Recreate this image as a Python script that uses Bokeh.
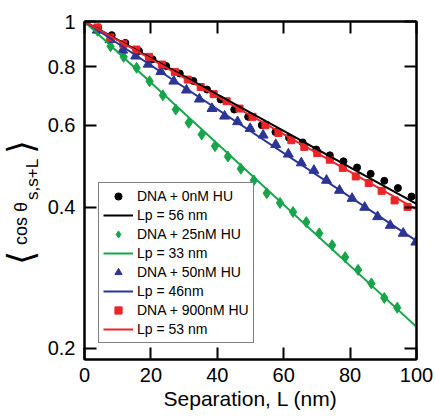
from bokeh.plotting import figure
from bokeh.layouts import row
from bokeh.models import (LinearAxis, LogAxis, FixedTicker, Legend, LegendItem,
                          Range1d, Div)
from bokeh.embed import file_html
from bokeh.resources import INLINE

# ---- data ----
x_0nM = [0, 4.1, 8.2, 12.3, 16.4, 20.5, 24.6, 28.7, 32.8, 36.9, 41.0, 45.1, 49.3,
         53.4, 57.5, 61.6, 65.7, 69.8, 73.9, 78.0, 82.1, 86.2, 90.3, 94.4, 98.5]
y_0nM = [1.0, 0.971, 0.935, 0.900, 0.865, 0.830, 0.803, 0.774, 0.746, 0.715, 0.681,
         0.648, 0.625, 0.600, 0.580, 0.564, 0.551, 0.532, 0.517, 0.502, 0.487,
         0.472, 0.456, 0.440, 0.422]

x_25nM = [0, 3.93, 7.85, 11.8, 15.7, 19.6, 23.6, 27.5, 31.4, 35.3, 39.3, 43.2, 47.1,
          51.0, 54.9, 58.9, 62.8, 66.8, 70.7, 74.6, 78.5, 82.4, 86.4, 90.3, 94.2]
y_25nM = [1.0, 0.955, 0.885, 0.840, 0.796, 0.745, 0.695, 0.648, 0.607, 0.573, 0.541,
          0.514, 0.484, 0.457, 0.429, 0.409, 0.391, 0.372, 0.352, 0.332, 0.313,
          0.294, 0.275, 0.256, 0.244]

x_50nM = [0, 3.84, 7.68, 11.5, 15.4, 19.2, 23.0, 26.9, 30.7, 34.6, 38.4, 42.2, 46.1,
          49.9, 53.8, 57.6, 61.4, 65.3, 69.1, 72.9, 76.8, 80.6, 84.4, 88.3, 92.1,
          96.0, 99.8]
y_50nM = [1.0, 0.958, 0.915, 0.868, 0.843, 0.810, 0.781, 0.745, 0.713, 0.682, 0.651,
          0.627, 0.610, 0.590, 0.571, 0.545, 0.520, 0.498, 0.480, 0.457, 0.435,
          0.418, 0.400, 0.382, 0.366, 0.352, 0.337]

x_900nM = [0, 3.9, 7.8, 11.7, 15.6, 19.4, 23.3, 27.2, 31.1, 35.0, 38.9, 42.8, 46.7,
           50.6, 54.5, 58.4, 62.3, 66.2, 70.1, 73.9, 77.8, 81.7, 85.6, 89.5, 93.4, 97.3]
y_900nM = [1.0, 0.971, 0.924, 0.894, 0.871, 0.840, 0.809, 0.780, 0.751, 0.724, 0.699,
           0.675, 0.651, 0.625, 0.600, 0.577, 0.557, 0.539, 0.523, 0.506, 0.486,
           0.466, 0.451, 0.434, 0.414, 0.401]

fit_x = [0, 100]
fit_56 = [1.0, 0.407]
fit_33 = [1.0, 0.222]
fit_46 = [1.0, 0.339]
fit_53 = [1.0, 0.396]

x_ticks = [0, 20, 40, 60, 80, 100]
y_ticks = [0.2, 0.4, 0.6, 0.8, 1.0]
y_tick_labels = ["0.2", "0.4", "0.6", "0.8", "1"]

labels_pts = ["DNA + 0nM HU", "DNA + 25nM HU", "DNA + 50nM HU", "DNA + 900nM HU"]
labels_fit = ["Lp = 56 nm", "Lp = 33 nm", "Lp = 46nm", "Lp = 53 nm"]

BLACK = "#000000"
GREEN = "#17a54b"
BLUE = "#2b3595"
RED = "#ec2428"
FONT = "Liberation Sans"

p = figure(width=391, height=417, y_axis_type="log",
           x_range=Range1d(0, 100), y_range=Range1d(0.189, 1.0),
           output_backend="svg", toolbar_location=None,
           min_border_left=37, min_border_right=19, min_border_top=21,
           min_border_bottom=58)
p.grid.visible = False
p.outline_line_color = "black"
p.outline_line_width = 2
p.background_fill_color = "white"
p.border_fill_color = "white"


def style_axis(ax, show_labels=True):
    ax.major_tick_in = 12
    ax.major_tick_out = 0
    ax.minor_tick_line_color = None
    ax.major_tick_line_width = 2
    ax.major_tick_line_color = "black"
    ax.axis_line_width = 2
    ax.axis_line_color = "black"
    ax.major_label_text_font = FONT
    ax.major_label_text_color = "black"
    if show_labels:
        ax.major_label_text_font_size = "20px"
        ax.major_label_standoff = 8
    else:
        ax.major_label_text_font_size = "10px"
        ax.major_label_standoff = 0


xa = p.xaxis[0]
xa.ticker = FixedTicker(ticks=x_ticks)
style_axis(xa)
xa.axis_label = "Separation, L (nm)"
xa.axis_label_text_font = FONT
xa.axis_label_text_font_size = "21px"
xa.axis_label_text_font_style = "normal"
xa.axis_label_text_color = "black"
xa.axis_label_standoff = 2

ya = p.yaxis[0]
ya.ticker = FixedTicker(ticks=y_ticks)
style_axis(ya)
ya.major_label_overrides = {t: s for t, s in zip(y_ticks, y_tick_labels)}
ya.major_label_standoff = 9

top_ax = LinearAxis(ticker=FixedTicker(ticks=x_ticks))
style_axis(top_ax, show_labels=False)
top_ax.major_label_overrides = {t: "" for t in x_ticks}
p.add_layout(top_ax, "above")
right_ax = LogAxis(ticker=FixedTicker(ticks=y_ticks))
style_axis(right_ax, show_labels=False)
right_ax.major_label_overrides = {t: "" for t in y_ticks}
p.add_layout(right_ax, "right")

# markers
r0 = p.scatter(x_0nM, y_0nM, marker="circle", size=7, color=BLACK)
r25 = p.scatter(x_25nM, y_25nM, marker="diamond", size=11, color=GREEN)
r50 = p.scatter(x_50nM, y_50nM, marker="triangle", size=10, color=BLUE)
r900 = p.scatter(x_900nM, y_900nM, marker="square", size=7, color=RED)

# fit lines
l56 = p.line(fit_x, fit_56, line_color=BLACK, line_width=2)
l33 = p.line(fit_x, fit_33, line_color=GREEN, line_width=2)
l46 = p.line(fit_x, fit_46, line_color=BLUE, line_width=2)
l53 = p.line(fit_x, fit_53, line_color=RED, line_width=2)

items = []
for lab_p, rp, lab_f, rf in zip(labels_pts, [r0, r25, r50, r900],
                                labels_fit, [l56, l33, l46, l53]):
    items.append(LegendItem(label=lab_p, renderers=[rp]))
    items.append(LegendItem(label=lab_f, renderers=[rf]))

legend = Legend(items=items, location=(14, 16), margin=0, padding=4, spacing=1,
                glyph_width=30, glyph_height=18, label_height=18, label_standoff=4,
                label_text_font=FONT, label_text_font_size="14px",
                label_text_color="black",
                border_line_color="black", border_line_width=1,
                background_fill_color="white", background_fill_alpha=1.0)
p.add_layout(legend)

# ---- y-axis title:  < cos theta_{s,s+L} >  as rotated HTML text
ROT = ("position:absolute;transform-origin:0 0;transform:rotate(-90deg);"
       "white-space:nowrap;line-height:1;color:black;margin:0;padding:0;")


def span(txt, left, top, size, font):
    return (f'<span style="{ROT}left:{left}px;top:{top}px;font-size:{size}px;'
            f"font-family:'{font}';\">{txt}</span>")


ylabel_html = (
    '<div style="position:relative;width:44px;height:417px;overflow:visible;">'
    + span("\u27e8", 3, 265, 36, "DejaVu Sans")
    + span("cos", 12, 245, 18, FONT)
    + span("\u03b8", 12, 212, 18, FONT)
    + span("s,s+L", 24, 200, 17, FONT)
    + span("\u27e9", 3, 154, 36, "DejaVu Sans")
    + "</div>"
)
ylab = Div(text=ylabel_html, width=44, height=417, margin=(0, 0, 0, 0))

layout = row(ylab, p, spacing=0)
open("out.html", "w").write(file_html(layout, INLINE))
